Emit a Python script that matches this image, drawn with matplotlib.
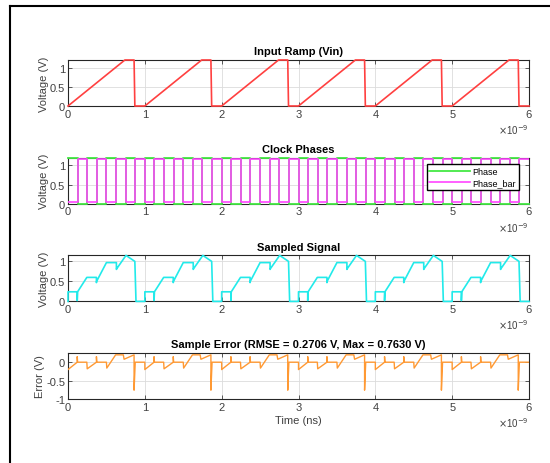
import numpy as np
import matplotlib.pyplot as plt
from matplotlib.lines import Line2D
from matplotlib.ticker import FuncFormatter

plt.rcParams['font.family'] = ['Liberation Sans', 'DejaVu Sans']

# ramp period starts (ns), the shape below repeats each 1 ns
cycle_starts = [0, 1, 2, 3, 4, 5]

# input ramp, one period (ns, V)
ramp_t = [0.0, 0.74, 0.86, 0.87, 1.0]
ramp_v = [0.0, 1.2, 1.2, 0.0, 0.0]

# sampled signal, one period
samp_t = [0.0, 0.0, 0.12, 0.12, 0.125, 0.245, 0.37, 0.37, 0.372, 0.50,
          0.63, 0.63, 0.635, 0.755, 0.87, 0.885, 1.0]
samp_v = [0.0, 0.24, 0.24, 0.02, 0.24, 0.60, 0.60, 0.47, 0.50, 0.97,
          0.97, 0.80, 0.82, 1.15, 1.0, 0.0, 0.0]

# sample error, one period
err_t = [0.0, 0.12, 0.12, 0.125, 0.245, 0.25, 0.37, 0.37, 0.375, 0.50,
         0.505, 0.62, 0.72, 0.73, 0.86, 0.86, 0.875, 1.0]
err_v = [-0.20, 0.0, 0.15, 0.0, 0.0, -0.18, 0.0, 0.15, 0.0, 0.0,
         -0.16, 0.20, 0.20, 0.08, 0.20, -0.76, 0.0, 0.0]

# clock: 24 periods of 0.25 ns, phase high first half, phase_bar second half
clk_period = 0.25
clk_count = 24
phase_v = [1.2, 0.0]
phase_bar_v = [0.04, 1.16]

rmse = 0.2706
max_err = 0.7630


def tile(t, v):
    tt = np.concatenate([np.array(t) + s for s in cycle_starts]) * 1e-9
    vv = np.concatenate([np.array(v) for s in cycle_starts])
    return tt, vv


def clock(levels):
    tt = np.arange(clk_count * 2 + 1) * clk_period / 2 * 1e-9
    vv = np.array(levels * clk_count + [levels[-1]])
    return tt, vv


fig = plt.figure(figsize=(5.5, 4.64), dpi=100)

# outer frame
fig.add_artist(Line2D([10/550, 10/550], [0, 1 - 7/464], color='black', lw=1.5))
fig.add_artist(Line2D([10/550, 1], [1 - 7/464, 1 - 7/464], color='black', lw=1.5))

left, width, h = 68/550, 461/550, 46/464
bottoms = [357/464, 259.3/464, 161.6/464, 64/464]
axes = [fig.add_axes([left, b, width, h]) for b in bottoms]

grey = '#404040'
for ax in axes:
    ax.set_xlim(0, 6e-9)
    ax.set_xticks(np.arange(7) * 1e-9)
    ax.xaxis.set_major_formatter(FuncFormatter(lambda x, p: '%d' % round(x * 1e9)))
    ax.grid(True, color='#dcdcdc', lw=0.6)
    ax.set_axisbelow(True)
    ax.tick_params(direction='in', top=True, right=True, labelsize=8,
                   colors=grey, length=3, pad=2, width=0.6)
    for s in ax.spines.values():
        s.set_color('#262626')
        s.set_linewidth(0.8)
    ax.text(1.0, -0.5, r'$\times$10$^{-9}$', transform=ax.transAxes,
            ha='right', va='center', fontsize=7, color=grey)

ax = axes[0]
t, v = tile(ramp_t, ramp_v)
ax.plot(t, v, color='#ff4040', lw=1.2, clip_on=False, zorder=3)
ax.set_ylim(0, 1.2)
ax.set_title('Input Ramp (Vin)', fontsize=8, fontweight='bold', pad=4)

ax = axes[1]
t, v = clock(phase_v)
ax.plot(t, v, color='#44e844', lw=1.3, drawstyle='steps-post', label='Phase',
        clip_on=False, zorder=3)
t, v = clock(phase_bar_v)
ax.plot(t, v, color='#ff44ff', lw=1.2, drawstyle='steps-post', label='Phase_bar',
        zorder=4)
ax.set_ylim(0, 1.2)
ax.set_title('Clock Phases', fontsize=8, fontweight='bold', pad=4)
ax.legend(loc='upper right', bbox_to_anchor=(0.978, 0.86), fontsize=6.5,
          fancybox=False, edgecolor='black', framealpha=1, handlelength=4.5,
          borderpad=0.3, labelspacing=0.3, handletextpad=0.3, borderaxespad=0)

ax = axes[2]
t, v = tile(samp_t, samp_v)
ax.plot(t, v, color='#22eaea', lw=1.2, clip_on=False, zorder=3)
ax.set_ylim(0, 1.15)
ax.set_title('Sampled Signal', fontsize=8, fontweight='bold', pad=4)

ax = axes[3]
t, v = tile(err_t, err_v)
ax.plot(t, v, color='#ff9933', lw=1.0, zorder=3)
ax.set_ylim(-1, 0.25)
ax.set_yticks([-1, -0.5, 0])
ax.set_yticklabels(['-1', '-0.5', '0'])
ax.set_title('Sample Error (RMSE = %.4f V, Max = %.4f V)' % (rmse, max_err),
             fontsize=8, fontweight='bold', pad=4)
ax.set_xlabel('Time (ns)', fontsize=8, color=grey, labelpad=2)

for ax in axes[:3]:
    ax.set_yticks([0, 0.5, 1])
    ax.set_yticklabels(['0', '0.5', '1'])
    ax.set_ylabel('Voltage (V)', fontsize=8, color=grey, labelpad=1)
axes[3].set_ylabel('Error (V)', fontsize=8, color=grey, labelpad=1)

fig.savefig('out.png', dpi=100)
